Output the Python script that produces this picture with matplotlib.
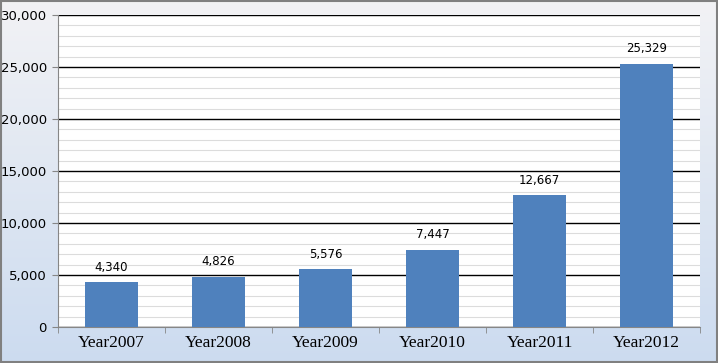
import numpy as np
import matplotlib
matplotlib.use("Agg")
import matplotlib.pyplot as plt
from matplotlib.ticker import MultipleLocator, FuncFormatter
from matplotlib.patches import Rectangle

# data
years = ["Year2007", "Year2008", "Year2009", "Year2010", "Year2011", "Year2012"]
counts = [4340, 4826, 5576, 7447, 12667, 25329]

fig = plt.figure(figsize=(7.18, 3.63), dpi=100)

# background gradient (white-grey top -> light blue bottom)
bg = fig.add_axes([0, 0, 1, 1], zorder=-10)
t = np.linspace(0, 1, 256)[:, None]
top = np.array([0.95, 0.95, 0.96])
bot = np.array([0.80, 0.86, 0.94])
grad = top * (1 - t[..., None]) + bot * t[..., None]
grad = np.repeat(grad, 2, axis=1)
bg.imshow(grad, aspect="auto", extent=[0, 1, 0, 1])
bg.axis("off")
fig.patches.append(Rectangle((0.001, 0.002), 0.997, 0.995, transform=fig.transFigure,
                             fill=False, edgecolor="#808080", lw=1.5))

ax = fig.add_axes([58 / 718, 36 / 363, 642 / 718, 312 / 363])
ax.set_facecolor("white")
x = np.arange(len(years))
bars = ax.bar(x, counts, width=0.5, color="#4f81bd", zorder=3)

ax.set_xlim(-0.5, len(years) - 0.5)
ax.set_ylim(0, 30000)
ax.yaxis.set_major_locator(MultipleLocator(5000))
ax.yaxis.set_minor_locator(MultipleLocator(1000))
ax.yaxis.set_major_formatter(FuncFormatter(lambda v, p: f"{int(v):,}"))
ax.grid(which="minor", axis="y", color="#dcdcdc", lw=0.8, zorder=1)
ax.grid(which="major", axis="y", color="black", lw=1.0, zorder=2)

for s in ["top", "right"]:
    ax.spines[s].set_visible(False)
ax.spines["left"].set_color("#868686")
ax.spines["bottom"].set_color("#868686")

ax.set_xticks(x)
ax.set_xticklabels(years, family="Liberation Serif", fontsize=12.5)
ax.set_xticks(np.arange(-0.5, len(years)), minor=True)
ax.tick_params(axis="x", which="major", length=0, pad=6)
ax.tick_params(axis="x", which="minor", length=4, color="#868686")
ax.tick_params(axis="y", which="major", length=4, color="#868686", labelsize=9.5, pad=4)
ax.tick_params(axis="y", which="minor", length=0)

for xi, v in zip(x, counts):
    ax.text(xi, v + 800, f"{v:,}", ha="center", va="bottom", fontsize=8.5)

fig.savefig("out.png", dpi=100)
